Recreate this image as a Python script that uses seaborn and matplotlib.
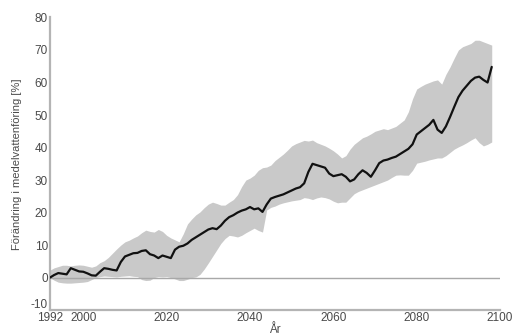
import numpy as np
import pandas as pd
import matplotlib
matplotlib.use("Agg")
import matplotlib.pyplot as plt
import matplotlib.transforms as mtransforms
import seaborn as sns

# Years of the simulation
years = list(range(1992, 2099))

# Ensemble mean change in mean discharge [%]
mean_change = [
    0.0, 0.8, 1.4, 1.2, 1.0, 2.9, 2.4, 1.9, 1.8, 1.3,
    0.7, 0.6, 1.8, 2.9, 2.7, 2.4, 2.2, 4.8, 6.5, 7.0,
    7.5, 7.6, 8.2, 8.4, 7.2, 6.8, 6.0, 6.8, 6.4, 6.0,
    8.6, 9.5, 9.8, 10.5, 11.6, 12.4, 13.2, 14.0, 14.8, 15.2,
    14.9, 16.0, 17.5, 18.6, 19.2, 20.0, 20.6, 21.0, 21.7, 21.0,
    21.3, 20.2, 22.5, 24.3, 24.8, 25.2, 25.6, 26.2, 26.8, 27.4,
    27.8, 29.0, 32.5, 35.0, 34.6, 34.2, 33.8, 32.0, 31.2, 31.5,
    31.8, 31.0, 29.6, 30.2, 31.8, 33.0, 32.2, 31.0, 33.0, 35.2,
    36.0, 36.3, 36.8, 37.2, 38.0, 38.8, 39.6, 41.0, 44.0, 45.0,
    46.0, 47.0, 48.5, 45.5, 44.5, 46.5, 49.4, 52.5, 55.5, 57.5,
    59.0, 60.5, 61.5, 61.8, 60.8, 60.0, 64.8,
]

# Upper edge of the ensemble spread [%]
upper = [
    2.3, 3.0, 3.4, 3.8, 3.8, 3.6, 3.8, 3.9, 3.8, 3.5,
    3.2, 3.6, 4.6, 5.2, 6.2, 7.5, 8.8, 10.0, 11.0, 11.5,
    12.2, 12.8, 13.8, 14.6, 14.2, 14.0, 14.8, 14.2, 13.0, 12.2,
    11.6, 11.0, 13.5, 16.5, 18.0, 19.3, 20.2, 21.5, 22.6, 23.2,
    22.8, 22.3, 22.3, 23.2, 24.0, 25.5, 28.0, 30.0, 30.6, 31.5,
    33.0, 33.8, 34.0, 34.6, 36.0, 37.0, 38.0, 39.2, 40.5, 41.2,
    41.7, 42.2, 42.0, 42.3, 41.5, 41.0, 40.5, 39.8, 39.0, 38.0,
    36.8, 37.5, 39.5, 41.0, 42.0, 43.0, 43.5, 44.2, 45.0, 45.4,
    45.8, 45.5, 46.0, 46.5, 47.5, 48.5, 51.0, 55.0, 58.0, 58.8,
    59.5, 60.0, 60.5, 60.8, 59.5, 62.5, 64.8, 67.5, 70.0, 71.0,
    71.5, 72.0, 73.0, 73.0, 72.5, 72.0, 71.5,
]

# Lower edge of the ensemble spread [%]
lower = [
    0.0, -0.8, -1.4, -1.6, -1.7, -1.7, -1.6, -1.5, -1.4, -1.2,
    -0.6, 0.0, 0.3, 0.5, 0.4, 0.3, 0.2, 0.4, 0.5, 0.6,
    0.4, 0.3, -0.6, -0.9, -0.8, 0.0, 0.3, 0.2, 0.3, 0.0,
    -0.4, -0.9, -0.9, -0.5, 0.0, 0.2, 1.0, 2.6, 4.5, 6.5,
    8.5, 10.5, 12.0, 13.0, 12.8, 12.5, 13.0, 13.8, 14.5, 15.2,
    14.5, 14.0, 20.8, 21.6, 22.0, 22.6, 23.0, 23.3, 23.6, 23.8,
    24.0, 24.6, 24.4, 24.0, 24.5, 24.8, 24.6, 24.2, 23.5, 23.0,
    23.2, 23.2, 24.5, 25.8, 26.5, 27.0, 27.5, 28.0, 28.5, 29.0,
    29.5, 30.0, 30.8, 31.5, 31.6, 31.5, 31.5, 33.0, 35.2, 35.5,
    35.8, 36.2, 36.5, 36.8, 36.8, 37.5, 38.5, 39.5, 40.2, 40.8,
    41.5, 42.3, 43.0, 41.5, 40.5, 41.0, 41.7,
]

x_ticks = [1992, 2000, 2020, 2040, 2060, 2080, 2100]
y_ticks = [-10, 0, 10, 20, 30, 40, 50, 60, 70, 80]

df = pd.DataFrame({"year": years, "mean": mean_change,
                   "lower": lower, "upper": upper})

sns.set_theme(style="white")
plt.rcParams["font.family"] = ["Liberation Sans", "DejaVu Sans"]

fig = plt.figure(figsize=(5.15, 3.36), dpi=100)
ax = fig.add_axes([0.097, 0.077, 0.874, 0.871])

axis_grey = "#b4b4b4"
text_grey = "#4a4a4a"

ax.fill_between(df["year"], df["lower"], df["upper"],
                color="#c9c9c9", linewidth=0, zorder=1)
ax.axhline(0, color="#a8a8a8", linewidth=1.0, zorder=2)
sns.lineplot(data=df, x="year", y="mean", ax=ax, color="#111111",
             linewidth=1.6, zorder=3)

ax.set_xlim(1992, 2100)
ax.set_ylim(-10, 80)
ax.set_xticks(x_ticks)
ax.set_yticks(y_ticks)
ax.set_xticklabels([str(t) for t in x_ticks])
ax.set_yticklabels([str(t) for t in y_ticks])

for side in ("top", "right"):
    ax.spines[side].set_visible(False)
for side in ("left", "bottom"):
    ax.spines[side].set_color(axis_grey)
    ax.spines[side].set_linewidth(1.6)

ax.tick_params(axis="both", direction="in", length=3, width=1,
               color="#888888", labelsize=8.5, labelcolor=text_grey,
               pad=1.5)
ax.tick_params(axis="x", pad=1)

# lift the lowest y label a little so it sits above the first year label
lowest = ax.get_yticklabels()[0]
lowest.set_transform(lowest.get_transform() +
                     mtransforms.ScaledTranslation(0, 4.5 / 72, fig.dpi_scale_trans))

ax.set_xlabel("År", fontsize=8.5, color=text_grey, labelpad=0.5)
ax.set_ylabel("Förändring i medelvattenföring [%]", fontsize=8,
              color=text_grey, labelpad=6)

fig.savefig("out.png", dpi=100, facecolor="white")
